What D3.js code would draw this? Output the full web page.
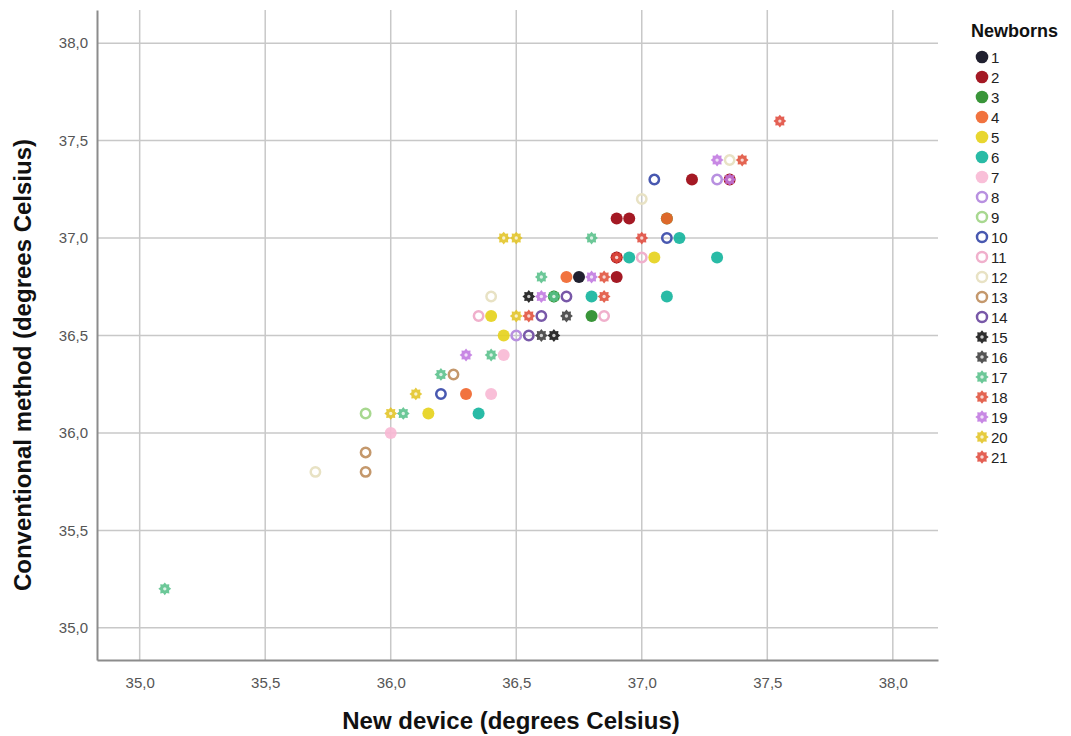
<!DOCTYPE html>
<html>
<head>
<meta charset="utf-8">
<script src="https://cdn.jsdelivr.net/npm/d3@7"></script>
<style>
  body { margin: 0; background: #fff; }
  text { font-family: "Liberation Sans", Arial, sans-serif; }
</style>
</head>
<body>
<div id="chart"></div>
<script>
// values
const newDevice = [35.10, 35.70, 35.90, 35.90, 36.00, 35.90, 36.00, 36.05, 36.15, 36.35,
  36.10, 36.20, 36.30, 36.40, 36.20, 36.25, 36.30, 36.40, 36.45, 36.45,
  36.50, 36.55, 36.60, 36.65, 36.35, 36.40, 36.50, 36.55, 36.60, 36.70,
  36.80, 36.85, 36.40, 36.55, 36.60, 36.65, 36.65, 36.70, 36.80, 36.85,
  37.10, 36.60, 36.70, 36.75, 36.80, 36.85, 36.90, 36.90, 36.90, 36.95,
  37.00, 37.05, 37.30, 36.45, 36.50, 36.80, 37.00, 37.10, 37.15, 36.90,
  36.95, 37.10, 37.10, 37.00, 37.05, 37.20, 37.30, 37.35, 37.35, 37.30,
  37.35, 37.40, 37.55];
const conventional = [35.2, 35.8, 35.8, 35.9, 36.0, 36.1, 36.1, 36.1, 36.1, 36.1,
  36.2, 36.2, 36.2, 36.2, 36.3, 36.3, 36.4, 36.4, 36.4, 36.5,
  36.5, 36.5, 36.5, 36.5, 36.6, 36.6, 36.6, 36.6, 36.6, 36.6,
  36.6, 36.6, 36.7, 36.7, 36.7, 36.7, 36.7, 36.7, 36.7, 36.7,
  36.7, 36.8, 36.8, 36.8, 36.8, 36.8, 36.8, 36.9, 36.9, 36.9,
  36.9, 36.9, 36.9, 37.0, 37.0, 37.0, 37.0, 37.0, 37.0, 37.1,
  37.1, 37.1, 37.1, 37.2, 37.3, 37.3, 37.3, 37.3, 37.3, 37.4,
  37.4, 37.4, 37.6];
const newborn = [17, 12, 13, 13, 7, 9, 20, 17, 5, 6,
  20, 10, 4, 7, 17, 13, 19, 17, 7, 5,
  8, 14, 16, 15, 11, 5, 20, 18, 14, 16,
  3, 11, 12, 15, 19, 3, 17, 14, 6, 18,
  6, 17, 4, 1, 19, 18, 2, 2, 21, 6,
  11, 5, 6, 20, 20, 17, 21, 10, 6, 2,
  2, 3, 4, 12, 10, 2, 8, 2, 19, 19,
  12, 18, 21];
const groups = d3.range(1, 22);
const xTicks = [35.0, 35.5, 36.0, 36.5, 37.0, 37.5, 38.0];
const yTicks = [35.0, 35.5, 36.0, 36.5, 37.0, 37.5, 38.0];

const colors = ["#080818", "#9a000c", "#248a24", "#f0642a", "#e6d21a", "#12b49c", "#f8b8d4",
  "#b890e0", "#a8d890", "#4858b0", "#f0b0cc", "#e8e2c4", "#c4986c", "#7858a8",
  "#111111", "#3c3c3c", "#58c08a", "#e0503a", "#c078e0", "#e2c424", "#e04a3c"];
// 0 = filled circle, 1 = hollow circle, 2 = star
const markerKind = g => g <= 7 ? 0 : (g <= 14 ? 1 : 2);

const width = 1071, height = 736;
const svg = d3.select("#chart").append("svg")
  .attr("width", width).attr("height", height);

const x = d3.scaleLinear().domain([34.83, 38.18]).range([97, 938]);
const y = d3.scaleLinear().domain([34.835, 38.17]).range([660, 10]);

// grid
svg.append("g")
  .selectAll("line").data(xTicks).join("line")
  .attr("x1", d => x(d)).attr("x2", d => x(d))
  .attr("y1", y.range()[1]).attr("y2", y.range()[0])
  .attr("stroke", "#c8c8c8").attr("stroke-width", 1.5);
svg.append("g")
  .selectAll("line").data(yTicks).join("line")
  .attr("x1", x.range()[0]).attr("x2", x.range()[1])
  .attr("y1", d => y(d)).attr("y2", d => y(d))
  .attr("stroke", "#c8c8c8").attr("stroke-width", 1.5);

// axes
const fmt = d => d3.format(".1f")(d).replace(".", ",");
const xAxis = svg.append("g")
  .attr("transform", `translate(0,${y.range()[0]})`)
  .call(d3.axisBottom(x).tickValues(xTicks).tickFormat(fmt).tickSize(0).tickPadding(17));
const yAxis = svg.append("g")
  .attr("transform", `translate(${x.range()[0]},0)`)
  .call(d3.axisLeft(y).tickValues(yTicks).tickFormat(fmt).tickSize(0).tickPadding(9));
[xAxis, yAxis].forEach(a => {
  a.select(".domain").attr("stroke", "#8c8c8c").attr("stroke-width", 2);
  a.selectAll("text").attr("fill", "#555").style("font-size", "15px")
    .style("font-family", "'Liberation Sans', Arial, sans-serif");
});

svg.append("text")
  .attr("x", 511).attr("y", 729)
  .attr("text-anchor", "middle")
  .style("font-size", "24px").style("font-weight", "bold").attr("fill", "#111")
  .text("New device (degrees Celsius)");
svg.append("text")
  .attr("transform", "translate(31,365) rotate(-90)")
  .attr("text-anchor", "middle")
  .style("font-size", "24px").style("font-weight", "bold").attr("fill", "#111")
  .text("Conventional method (degrees Celsius)");

// 8-pointed gear-like star
function starPath(r) {
  const pts = [];
  for (let i = 0; i < 16; i++) {
    const rr = i % 2 === 0 ? r : r * 0.72;
    const a = Math.PI * i / 8;
    pts.push([rr * Math.cos(a), rr * Math.sin(a)]);
  }
  return "M" + pts.map(p => p.join(",")).join("L") + "Z";
}

function drawMarker(sel, g, r) {
  const c = colors[g - 1];
  const k = markerKind(g);
  if (k === 0) {
    sel.append("circle").attr("r", r).attr("fill", c).attr("fill-opacity", 0.9);
  } else if (k === 1) {
    sel.append("circle").attr("r", r - 1.3).attr("fill", "none")
      .attr("stroke", c).attr("stroke-width", 2.5);
  } else {
    sel.append("path").attr("d", starPath(r + 0.4)).attr("fill", c).attr("fill-opacity", 0.88);
    sel.append("circle").attr("r", r * 0.28).attr("fill", "#fff").attr("fill-opacity", 0.75);
  }
}

const pts = newDevice.map((d, i) => ({ x: d, y: conventional[i], g: newborn[i] }));
svg.append("g")
  .selectAll("g").data(pts).join("g")
  .attr("transform", d => `translate(${x(d.x)},${y(d.y)})`)
  .each(function (d) { drawMarker(d3.select(this), d.g, 6); });

// legend
const legend = svg.append("g");
legend.append("text")
  .attr("x", 971).attr("y", 37)
  .style("font-size", "18px").style("font-weight", "bold").attr("fill", "#111")
  .text("Newborns");
const item = legend.selectAll("g.item").data(groups).join("g")
  .attr("class", "item")
  .attr("transform", (d, i) => `translate(982,${57 + i * 20})`);
item.each(function (d) { drawMarker(d3.select(this), d, 6.3); });
item.append("text")
  .attr("x", 9).attr("y", 5.5)
  .style("font-size", "15px").attr("fill", "#222")
  .text(d => d);
</script>
</body>
</html>
